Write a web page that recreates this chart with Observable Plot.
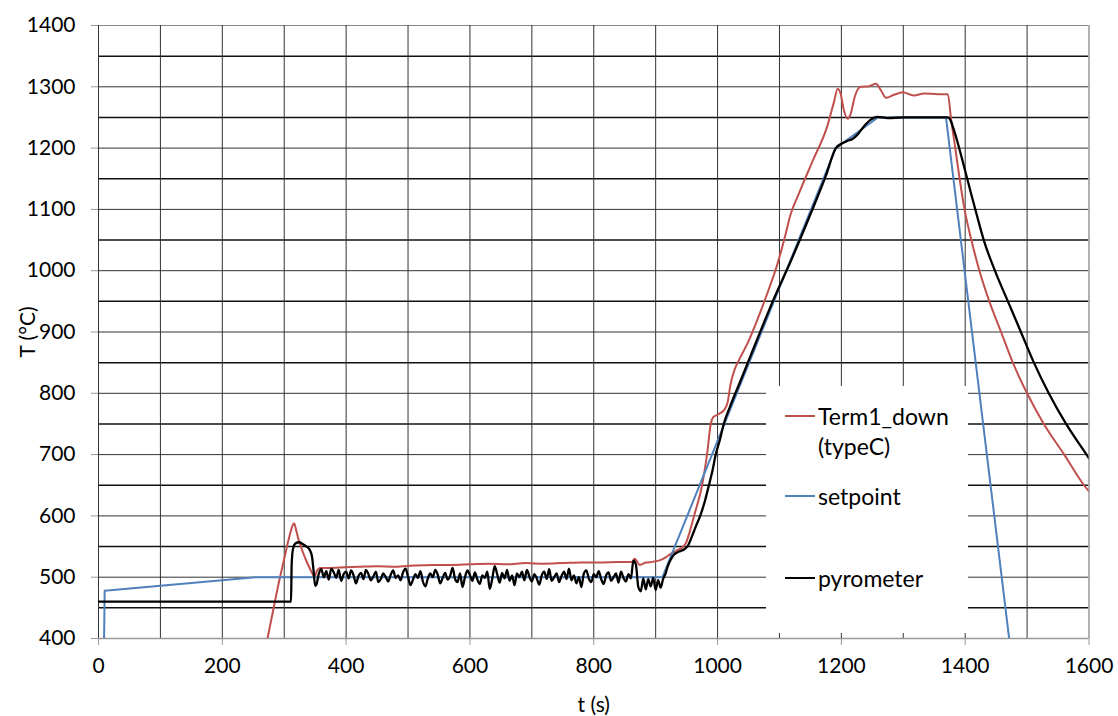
<!DOCTYPE html>
<html>
<head>
<meta charset="utf-8">
<script src="https://cdn.jsdelivr.net/npm/d3@7"></script>
<script src="https://cdn.jsdelivr.net/npm/@observablehq/plot@0.6"></script>
<style>
  html, body { margin: 0; padding: 0; background: #fff; }
  #wrap { position: relative; width: 1118px; height: 716px; font-family: Lato, "Open Sans", sans-serif; }
  #legend { position: absolute; left: 766px; top: 386px; width: 202px; height: 247px; background: #fff; font-size: 23px; color: #000; }
  .swatch { position: absolute; left: 19px; width: 30px; height: 2px; }
  .lbl { position: absolute; left: 52px; line-height: 30px; white-space: nowrap; }
</style>
</head>
<body>
<div id="wrap"></div>
<script>
// ---- data (time in s, temperature in °C) ----
const seriesNames = ["Term1_down (typeC)", "setpoint", "pyrometer"];
const seriesColors = ["#C0504D", "#4F81BD", "#000000"];

const xTicks = [0, 200, 400, 600, 800, 1000, 1200, 1400, 1600];
const yTicks = [400, 500, 600, 700, 800, 900, 1000, 1100, 1200, 1300, 1400];
const gridX = [0, 100, 200, 300, 400, 500, 600, 700, 800, 900, 1000, 1100, 1200, 1300, 1400, 1500];
const gridY100 = [500, 600, 700, 800, 900, 1000, 1100, 1200, 1300];
const gridY50 = [450, 550, 650, 750, 850, 950, 1050, 1150, 1250, 1350];

const setpoint = [
  [9, 400], [10, 478], [254, 500], [911, 500], [1191, 1200], [1259, 1250],
  [1369, 1250], [1471, 400]
];

const term1Down = [
  [273, 400], [280, 435], [290, 485], [300, 530], [308, 565], [313, 583], [316, 588],
  [319, 578], [323, 562], [329, 544], [336, 526], [343, 511], [349, 501], [353, 511],
  [358, 515], [370, 515], [390, 516], [420, 517], [450, 518], [480, 517], [510, 519],
  [540, 520], [570, 520], [600, 521], [630, 522], [660, 521], [690, 523], [720, 522],
  [750, 523], [780, 524], [810, 524], [840, 525], [862, 525], [866, 530], [870, 526],
  [874, 520], [878, 521], [884, 524], [895, 525], [905, 527], [912, 530], [920, 535],
  [928, 540], [935, 544], [942, 548], [949, 556], [955, 574], [962, 600], [975, 650],
  [983, 700], [989, 750], [993, 761], [1000, 765], [1005, 768], [1010, 772], [1016, 784],
  [1021, 815], [1028, 840], [1035, 855], [1050, 885], [1065, 922], [1080, 962],
  [1097, 1012], [1110, 1060], [1118, 1092], [1131, 1125], [1154, 1180], [1177, 1235],
  [1188, 1275], [1194, 1297], [1199, 1288], [1204, 1262], [1210, 1248], [1215, 1256],
  [1222, 1285], [1231, 1300], [1245, 1301], [1256, 1305], [1264, 1294], [1272, 1282],
  [1285, 1287], [1299, 1291], [1317, 1286], [1334, 1289], [1356, 1288], [1372, 1288],
  [1377, 1249], [1384, 1200], [1391, 1150], [1399, 1100], [1410, 1050], [1423, 1000],
  [1439, 950], [1458, 900], [1477, 850], [1500, 800], [1527, 750], [1560, 700],
  [1592, 650], [1600, 640]
];

const pyrometer = [
  [0, 460], [311, 460], [312, 520], [314, 545], [318, 555], [324, 557], [330, 554],
  [336, 550], [341, 545], [345, 533], [347, 515], [350, 486],
  [352, 488], [356, 506], [360, 513], [364, 500], [368, 510], [372, 496], [376, 514],
  [380, 508], [384, 499], [388, 512], [392, 494], [396, 505], [400, 509], [404, 498],
  [408, 511], [412, 503], [416, 490], [420, 502], [424, 507], [428, 497], [432, 512],
  [436, 505], [440, 495], [444, 501], [448, 509], [452, 492], [456, 497], [460, 506],
  [464, 500], [468, 493], [472, 504], [476, 511], [480, 499], [484, 503], [488, 495],
  [492, 508], [496, 514], [500, 501], [504, 487], [508, 496], [512, 505], [516, 499],
  [520, 510], [524, 493], [528, 485], [532, 498], [536, 506], [540, 500], [544, 512],
  [548, 504], [552, 490], [556, 499], [560, 507], [564, 496], [568, 502], [572, 515],
  [576, 497], [580, 492], [584, 506], [588, 484], [592, 500], [596, 511], [600, 503],
  [604, 494], [608, 508], [612, 496], [616, 489], [620, 503], [624, 499], [628, 509],
  [632, 481], [636, 497], [640, 518], [644, 505], [648, 491], [652, 507], [656, 498],
  [660, 512], [664, 494], [668, 503], [672, 487], [676, 506], [680, 500], [684, 509],
  [688, 495], [692, 512], [696, 501], [700, 493], [704, 505], [708, 498], [712, 488],
  [716, 503], [720, 509], [724, 497], [728, 513], [732, 494], [736, 500], [740, 506],
  [744, 492], [748, 502], [752, 509], [756, 497], [760, 514], [764, 495], [768, 503],
  [772, 490], [776, 500], [780, 484], [784, 506], [788, 511], [792, 498], [796, 492],
  [800, 505], [804, 500], [808, 510], [812, 497], [816, 489], [820, 503], [824, 508],
  [828, 494], [832, 500], [836, 506], [840, 491], [844, 509], [848, 499], [852, 493],
  [856, 505], [860, 498], [864, 527], [868, 521], [872, 484], [876, 477], [880, 498],
  [884, 480], [888, 497], [892, 485], [896, 499], [900, 479], [904, 495], [908, 483],
  [912, 497], [916, 506], [920, 519], [924, 528], [928, 535], [934, 540], [941, 543],
  [947, 546], [952, 551], [958, 565], [965, 583], [973, 603], [980, 626], [986, 650],
  [992, 675], [997, 700], [1004, 725], [1010, 750], [1020, 778], [1037, 820],
  [1060, 878], [1090, 952], [1121, 1022], [1150, 1092], [1175, 1155], [1191, 1200],
  [1200, 1207], [1210, 1212], [1218, 1215], [1226, 1222], [1236, 1235], [1247, 1246],
  [1258, 1251], [1275, 1249], [1300, 1250], [1340, 1250], [1372, 1250], [1376, 1246],
  [1381, 1232], [1387, 1212], [1394, 1186], [1402, 1155], [1410, 1124], [1419, 1090],
  [1430, 1050], [1448, 1000], [1469, 950], [1490, 900], [1511, 850], [1535, 800],
  [1563, 750], [1596, 700], [1600, 694]
];

const allSeries = [term1Down, setpoint, pyrometer];
const curves = ["monotone-x", "linear", "monotone-x"];
const widths = [2, 2, 2.3];

const chart = Plot.plot({
  width: 1118,
  height: 716,
  marginLeft: 98,
  marginRight: 29.5,
  marginTop: 25,
  marginBottom: 78,
  x: { domain: [0, 1600] },
  y: { domain: [400, 1400] },
  style: { fontFamily: "Lato, 'Open Sans', sans-serif", fontSize: "21px", background: "#fff", color: "#000", overflow: "visible" },
  marks: [
    Plot.ruleY(gridY50, { stroke: "#111", strokeWidth: 1.5 }),
    Plot.ruleY(gridY100, { stroke: "#333", strokeWidth: 1 }),
    Plot.ruleY([1400], { stroke: "#888", strokeWidth: 1.2 }),
    Plot.ruleX(gridX, { stroke: "#333", strokeWidth: 1 }),
    Plot.ruleX([1600], { stroke: "#999", strokeWidth: 1.5 }),
    Plot.ruleY([400], { stroke: "#999", strokeWidth: 1.5 }),
    Plot.axisY({ ticks: yTicks, tickSize: 7, tickPadding: 16, stroke: "#999", label: null, tickFormat: d => String(d) }),
    Plot.axisX({ ticks: xTicks, tickSize: 7, tickPadding: 13, stroke: "#999", label: null, tickFormat: d => String(d) }),
    ...allSeries.map((s, i) =>
      Plot.line(s, { x: d => d[0], y: d => d[1], stroke: seriesColors[i], strokeWidth: widths[i], curve: curves[i], clip: true })
    ),
    Plot.text(["T (°C)"], { text: d => d, frameAnchor: "left", dx: -70, rotate: -90, textAnchor: "middle", lineAnchor: "middle", fontSize: 21 }),
    Plot.text(["t (s)"], { text: d => d, frameAnchor: "bottom", dy: 67, lineAnchor: "middle", fontSize: 21 })
  ]
});

const wrap = document.getElementById("wrap");
wrap.appendChild(chart);

// legend box (overlay inside the plot area)
const legend = document.createElement("div");
legend.id = "legend";
const legendRows = [
  { name: "Term1_down", extra: "(typeC)", color: seriesColors[0], cy: 30 },
  { name: seriesNames[1], color: seriesColors[1], cy: 110 },
  { name: seriesNames[2], color: seriesColors[2], cy: 192 }
];
legendRows.forEach(r => {
  const sw = document.createElement("div");
  sw.className = "swatch";
  sw.style.top = (r.cy - 1) + "px";
  sw.style.background = r.color;
  legend.appendChild(sw);
  const t = document.createElement("div");
  t.className = "lbl";
  t.style.top = (r.cy - 15) + "px";
  t.textContent = r.name;
  legend.appendChild(t);
  if (r.extra) {
    const t2 = document.createElement("div");
    t2.className = "lbl";
    t2.style.top = (r.cy + 15) + "px";
    t2.textContent = r.extra;
    legend.appendChild(t2);
  }
});
wrap.appendChild(legend);
</script>
</body>
</html>
